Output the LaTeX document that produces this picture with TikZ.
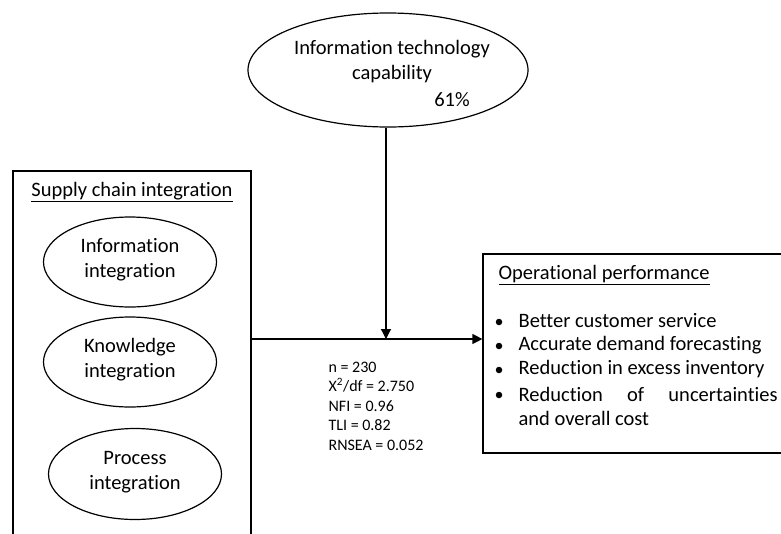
\documentclass[tikz,border=0pt]{standalone}
\usepackage{fontspec}
\setmainfont{Carlito}[Ligatures=NoCommon]
\usetikzlibrary{shapes.geometric,arrows.meta}
\begin{document}
\begin{tikzpicture}[x=1pt,y=-1pt,line width=1.2pt,
  ell/.style={draw,ellipse,inner sep=0pt},
  box/.style={draw,rectangle,inner sep=0pt},
  dot/.style={circle,fill,inner sep=0pt,minimum size=6.5pt},
  txt/.style={align=center,inner sep=0pt,font=\fontsize{20.5}{25}\selectfont},
  ltxt/.style={anchor=west,inner sep=0pt,font=\fontsize{20.5}{25}\selectfont},
  stat/.style={anchor=west,align=left,inner sep=0pt,font=\fontsize{16}{19.5}\selectfont},
  arr/.style={-{Triangle[length=10pt,width=10pt]}}]
\useasboundingbox (0,0) rectangle (781,533);
\clip (0,0) rectangle (781,533);
% top ellipse
\node[ell,minimum width=280pt,minimum height=114pt] (itc) at (388,70) {};
\node[txt] (itct) at (392,62) {Information technology\\capability};
\node[txt] (pct) at (452,100) {61\%};
% left box
\node[box,minimum width=238pt,minimum height=400pt] (sci) at (132,371) {};
\node[txt] (scit) at (132,192) {\underline{Supply chain integration}};
\node[ell,minimum width=173pt,minimum height=90pt] (ii) at (130,262) {};
\node[txt] (iit) at (130,260) {Information\\integration};
\node[ell,minimum width=173pt,minimum height=90pt] (ki) at (130,362) {};
\node[txt] (kit) at (130,360) {Knowledge\\integration};
\node[ell,minimum width=173pt,minimum height=91pt] (pi) at (135,474) {};
\node[txt] (pit) at (135,472) {Process\\integration};
% right box
\node[box,minimum width=320pt,minimum height=199pt] (op) at (643,353.5) {};
\node[ltxt] (opt) at (498,275) {\underline{Operational performance}};
\node[dot] (b1) at (499,322) {};
\node[ltxt] (l1) at (518,321) {Better customer service};
\node[dot] (b2) at (499,346) {};
\node[ltxt] (l2) at (518,345) {Accurate demand forecasting};
\node[dot] (b3) at (499,370) {};
\node[ltxt] (l3) at (518,369) {Reduction in excess inventory};
\node[dot] (b4) at (499,395) {};
\node[ltxt] (l4) at (518,394) {\makebox[259pt][s]{Reduction\hfill of\hfill uncertainties}};
\node[ltxt] (l5) at (518,418) {and overall cost};
% statistics
\node[stat] (st) at (328,406) {n = 230\\X\textsuperscript{2}/df = 2.750\\NFI = 0.96\\TLI = 0.82\\RNSEA = 0.052};
% connectors
\coordinate (j) at (386,339);
\draw[arr] (itc.south -| j) -- (j);
\draw[arr] (sci.east |- j) -- (op.west |- j);
\end{tikzpicture}
\end{document}
